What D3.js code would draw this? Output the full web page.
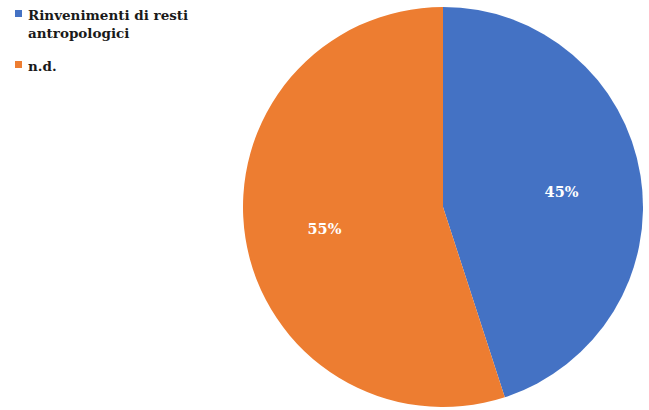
<!DOCTYPE html>
<html>
<head>
<meta charset="utf-8">
<script src="https://cdn.jsdelivr.net/npm/d3@7"></script>
<style>
  html, body { margin: 0; padding: 0; background: #ffffff; }
  svg { display: block; }
</style>
</head>
<body>
<svg id="chart" width="649" height="410"></svg>
<script>
// Share of cases by type of find
const categories = ["Rinvenimenti di resti antropologici", "n.d."];
const legendLines = [["Rinvenimenti di resti", "antropologici"], ["n.d."]];
const values = [45, 55];
const colors = ["#4472C4", "#ED7D31"];

const serif = "'DejaVu Serif', 'Liberation Serif', serif";

const svg = d3.select("#chart");

const cx = 443, cy = 207, radius = 200;

const pie = d3.pie().sort(null).value(d => d.value);
const arcs = pie(categories.map((c, i) => ({ name: c, value: values[i], color: colors[i] })));

const arc = d3.arc().innerRadius(0).outerRadius(radius);
const labelArc = d3.arc().innerRadius(radius * 0.6).outerRadius(radius * 0.6);

const g = svg.append("g").attr("transform", `translate(${cx},${cy})`);

g.selectAll("path.slice")
  .data(arcs)
  .join("path")
  .attr("class", "slice")
  .attr("d", arc)
  .attr("fill", d => d.data.color);

const total = d3.sum(values);
g.selectAll("text.pct")
  .data(arcs)
  .join("text")
  .attr("class", "pct")
  .attr("transform", d => `translate(${labelArc.centroid(d)})`)
  .attr("text-anchor", "middle")
  .attr("dy", "0.6em")
  .attr("fill", "#ffffff")
  .attr("font-family", serif)
  .attr("font-weight", "bold")
  .attr("font-size", 14.5)
  .text(d => Math.round(d.data.value / total * 100) + "%");

// Legend, top left
const legend = svg.append("g").attr("transform", "translate(15,10)");
const legendY = [0, 51];
const items = legend.selectAll("g.item")
  .data(categories)
  .join("g")
  .attr("class", "item")
  .attr("transform", (d, i) => `translate(0,${legendY[i]})`);

items.append("rect")
  .attr("width", 7).attr("height", 7)
  .attr("fill", (d, i) => colors[i]);

items.each(function(d, i) {
  const t = d3.select(this).append("text")
    .attr("x", 13).attr("y", 10)
    .attr("font-family", serif)
    .attr("font-weight", "bold")
    .attr("font-size", 13.5)
    .attr("fill", "#1a1a1a");
  legendLines[i].forEach((line, j) => {
    t.append("tspan").attr("x", 13).attr("dy", j === 0 ? 0 : 18).text(line);
  });
});
</script>
</body>
</html>
